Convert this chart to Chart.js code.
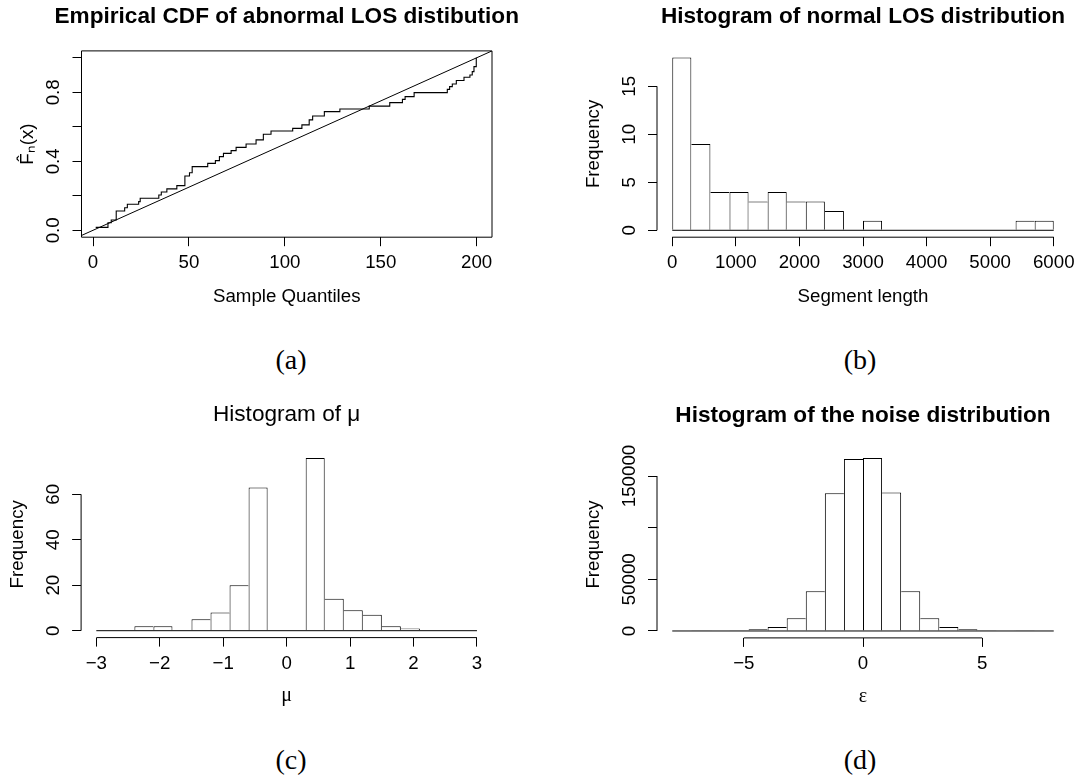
<!DOCTYPE html>
<html>
<head>
<meta charset="utf-8">
<script src="https://cdn.jsdelivr.net/npm/chart.js@4.4.1/dist/chart.umd.min.js"></script>
<style>
  body { margin: 0; background: #fff; }
  #page { position: relative; width: 1076px; height: 778px; overflow: hidden; background: #fff; }
  canvas { position: absolute; }
  .cap { position: absolute; width: 100px; height: 40px; line-height: 40px; text-align: center;
         font-family: 'Liberation Serif', 'DejaVu Serif', serif; font-size: 28px; color: #000; }
</style>
</head>
<body>
<div id="page">
  <canvas id="cdf" width="574" height="320" style="left:0px;top:0px"></canvas>
  <canvas id="los" width="650" height="320" style="left:538px;top:0px"></canvas>
  <canvas id="mu" width="574" height="330" style="left:0px;top:390px"></canvas>
  <canvas id="noise" width="650" height="330" style="left:538px;top:390px"></canvas>
  <div class="cap" style="left:241px;top:340px">(a)</div>
  <div class="cap" style="left:810px;top:340px">(b)</div>
  <div class="cap" style="left:241px;top:740px">(c)</div>
  <div class="cap" style="left:810px;top:740px">(d)</div>
</div>
<script>
// (a) empirical CDF, jump points
var ecdfX = [1.4, 7.8, 9.5, 12.1, 16.5, 17.9, 23.8, 24.6, 34.3, 35.6, 38.5, 43.7, 47.9, 50.3, 51.7,
             59.8, 63.8, 65.9, 68.0, 72.0, 74.6, 79.8, 85.0, 88.8, 92.8, 104.1, 108.9, 112.7, 114.5,
             120.6, 128.7, 144.0, 154.7, 161.3, 162.7, 167.4, 184.7, 185.9, 187.3, 189.4, 193.4,
             196.5, 197.7, 198.6, 199.8];
var ecdfY = [0.017, 0.044, 0.06, 0.112, 0.131, 0.151, 0.166, 0.186, 0.205, 0.222, 0.24, 0.259, 0.315,
             0.334, 0.369, 0.388, 0.404, 0.427, 0.446, 0.462, 0.481, 0.5, 0.524, 0.557, 0.576, 0.591,
             0.611, 0.64, 0.663, 0.688, 0.703, 0.72, 0.74, 0.759, 0.775, 0.798, 0.817, 0.833, 0.848,
             0.868, 0.887, 0.9, 0.92, 0.949, 1.0];
var refX = [-10, 210];
var refY = [-0.05, 1.05];
var cdfXTicks = [0, 50, 100, 150, 200];
var cdfXLabels = ['0', '50', '100', '150', '200'];
var cdfYTicks = [0, 0.2, 0.4, 0.6, 0.8, 1.0];
var cdfYLabels = ['0.0', '', '0.4', '', '0.8', ''];

// (b) normal LOS segment lengths
var losEdges = [0, 300, 600, 900, 1200, 1500, 1800, 2100, 2400, 2700, 3000, 3300, 3600, 3900, 4200,
                4500, 4800, 5100, 5400, 5700, 6000];
var losCounts = [18, 9, 4, 4, 3, 4, 3, 3, 2, 0, 1, 0, 0, 0, 0, 0, 0, 0, 1, 1];
var losXTicks = [0, 1000, 2000, 3000, 4000, 5000, 6000];
var losXLabels = ['0', '1000', '2000', '3000', '4000', '5000', '6000'];
var losYTicks = [0, 5, 10, 15];
var losYLabels = ['0', '5', '10', '15'];

// (c) mu
var muEdges = [-3, -2.7, -2.4, -2.1, -1.8, -1.5, -1.2, -0.9, -0.6, -0.3, 0, 0.3, 0.6, 0.9, 1.2, 1.5,
               1.8, 2.1, 2.4, 2.7, 3];
var muCounts = [0, 0, 2, 2, 0, 5, 8, 20, 63, 0, 0, 76, 14, 9, 7, 2, 1, 0, 0, 0];
var muXTicks = [-3, -2, -1, 0, 1, 2, 3];
var muXLabels = ['\u22123', '\u22122', '\u22121', '0', '1', '2', '3'];
var muYTicks = [0, 20, 40, 60];
var muYLabels = ['0', '20', '40', '60'];

// (d) noise
var noiseEdges = [-8, -7.2, -6.4, -5.6, -4.8, -4, -3.2, -2.4, -1.6, -0.8, 0, 0.8, 1.6, 2.4, 3.2, 4,
                  4.8, 5.6, 6.4, 7.2, 8];
var noiseCounts = [0, 100, 250, 600, 1600, 3900, 12200, 38500, 133200, 166500, 167400, 134100,
                   38500, 12200, 3900, 1600, 600, 250, 100, 0];
var noiseXTicks = [-5, 0, 5];
var noiseXLabels = ['\u22125', '0', '5'];
var noiseYTicks = [0, 50000, 100000, 150000];
var noiseYLabels = ['0', '50000', '', '150000'];

Chart.defaults.font.family = "'Liberation Sans', Arial, sans-serif";
Chart.defaults.font.size = 18.7;
Chart.defaults.color = '#000';

var TITLE_SIZE = 22.6;

// axis lines like R: box for (a), otherwise only from first to last tick
var axisLines = {
    id: 'axisLines',
    afterDraw: function(chart, args, o) {
        var ctx = chart.ctx, a = chart.chartArea;
        var xs = chart.scales.x, ys = chart.scales.y;
        ctx.save();
        ctx.strokeStyle = '#000';
        ctx.lineWidth = 1;
        ctx.beginPath();
        if (o.box) {
            ctx.rect(a.left, a.top, a.right - a.left, a.bottom - a.top);
        } else {
            var xt = xs.ticks, yt = ys.ticks;
            ctx.moveTo(xs.getPixelForValue(xt[0].value), a.bottom);
            ctx.lineTo(xs.getPixelForValue(xt[xt.length - 1].value), a.bottom);
            ctx.moveTo(a.left, ys.getPixelForValue(yt[0].value));
            ctx.lineTo(a.left, ys.getPixelForValue(yt[yt.length - 1].value));
        }
        ctx.stroke();
        ctx.restore();
    }
};
Chart.register(axisLines);

function histDatasets(edges, counts) {
    var pts = counts.map(function(c, i) { return {x: (edges[i] + edges[i + 1]) / 2, y: c}; });
    return [
        {
            type: 'line',
            data: [{x: edges[0], y: 0}, {x: edges[edges.length - 1], y: 0}],
            borderColor: '#000', borderWidth: 1, pointRadius: 0
        },
        {
            type: 'bar',
            data: pts,
            backgroundColor: '#fff',
            borderColor: '#000',
            borderSkipped: false,
            inflateAmount: 0,
            barPercentage: 1,
            categoryPercentage: 1,
            // shared edges drawn once, by the taller bar
            borderWidth: function(ctx) {
                var i = ctx.dataIndex, c = counts[i];
                return {
                    top: 1, bottom: 0,
                    left: (i === 0 || c >= counts[i - 1]) ? 1 : 0,
                    right: (i === counts.length - 1 || c > counts[i + 1]) ? 1 : 0
                };
            }
        }
    ];
}

// p: canvas box (page px), a: plot region (page px)
// an empty right axis as wide as the left one keeps the title centred over the plot
function makePanel(id, type, p, a, o) {
    var lh = TITLE_SIZE * 1.2;
    var W = a.l - p.left;
    var H = p.top + p.h - a.b;
    var padR = p.left + p.w - a.r - W;
    var tPb = (a.t - p.top) - o.tPt - lh;
    var grid = {display: true, drawOnChartArea: false, drawTicks: true, tickLength: 9,
                color: '#000', lineWidth: 1, offset: false};
    var config = {
        type: type,
        data: {datasets: o.datasets},
        options: {
            responsive: false,
            animation: false,
            events: [],
            layout: {autoPadding: false, padding: {left: 0, top: 0, right: padR, bottom: 0}},
            plugins: {
                legend: {display: false},
                tooltip: {enabled: false},
                title: {
                    display: true, text: o.title, color: '#000',
                    font: {size: TITLE_SIZE, weight: o.bold ? 'bold' : 'normal'},
                    padding: {top: o.tPt, bottom: tPb}
                },
                axisLines: {box: !!o.box}
            },
            scales: {
                x: {
                    type: 'linear', min: o.xMin, max: o.xMax, bounds: 'data', offset: false,
                    afterBuildTicks: function(s) { s.ticks = o.xTicks.map(function(v) { return {value: v}; }); },
                    afterFit: function(s) { s.height = H; },
                    grid: grid,
                    border: {display: false},
                    ticks: {autoSkip: false, maxRotation: 0, minRotation: 0, padding: 5.6,
                            callback: function(v, i) { return o.xLabels[i]; }},
                    title: {display: true, text: o.xTitle, color: '#000', font: o.xTitleFont || {},
                            padding: {top: 0, bottom: o.xTitlePb}}
                },
                y: {
                    type: 'linear', min: o.yMin, max: o.yMax, bounds: 'data', beginAtZero: false,
                    afterBuildTicks: function(s) { s.ticks = o.yTicks.map(function(v) { return {value: v}; }); },
                    afterFit: function(s) { s.width = W; },
                    grid: grid,
                    border: {display: false},
                    ticks: {autoSkip: false, minRotation: 90, maxRotation: 90, crossAlign: 'center',
                            padding: o.yPad, callback: function(v, i) { return o.yLabels[i]; }},
                    title: {display: true, text: o.yTitle, color: '#000', padding: {top: o.yTitlePt, bottom: 0}}
                },
                yr: {
                    type: 'linear', position: 'right', min: 0, max: 1,
                    afterFit: function(s) { s.width = W; },
                    grid: {display: false}, border: {display: false},
                    ticks: {display: false}, title: {display: false}
                }
            }
        }
    };
    return new Chart(document.getElementById(id), config);
}

document.addEventListener('DOMContentLoaded', function() {
    makePanel('cdf', 'line', {left: 0, top: 0, w: 574, h: 320},
        {l: 81.5, t: 50.9, r: 492, b: 237.2}, {
        title: 'Empirical CDF of abnormal LOS distibution', bold: true, tPt: 3.1,
        xTitle: 'Sample Quantiles', xTitlePb: 12.3,
        yTitle: 'F\u0302\u2099(x)', yTitlePt: 16.8,
        xMin: -6, xMax: 208, yMin: -0.04, yMax: 1.04,
        xTicks: cdfXTicks, xLabels: cdfXLabels, yTicks: cdfYTicks, yLabels: cdfYLabels, yPad: 5.5,
        box: true,
        datasets: [
            {
                data: ecdfX.map(function(x, i) { return {x: x, y: ecdfY[i]}; }),
                stepped: 'before', borderColor: '#000', borderWidth: 1.1, pointRadius: 0, fill: false
            },
            {
                data: refX.map(function(x, i) { return {x: x, y: refY[i]}; }),
                borderColor: '#000', borderWidth: 1, pointRadius: 0, fill: false
            }
        ]
    });

    makePanel('los', 'bar', {left: 538, top: 0, w: 650, h: 320},
        {l: 657, t: 50.6, r: 1069, b: 237.2}, {
        title: 'Histogram of normal LOS distribution', bold: true, tPt: 3.1,
        xTitle: 'Segment length', xTitlePb: 12.3,
        yTitle: 'Frequency', yTitlePt: 45.1,
        xMin: -240, xMax: 6240, yMin: -0.72, yMax: 18.72,
        xTicks: losXTicks, xLabels: losXLabels, yTicks: losYTicks, yLabels: losYLabels, yPad: 8.1,
        datasets: histDatasets(losEdges, losCounts)
    });

    makePanel('mu', 'bar', {left: 0, top: 390, w: 574, h: 330},
        {l: 81.1, t: 451, r: 492.2, b: 637.6}, {
        title: 'Histogram of \u03bc', bold: false, tPt: 11.1,
        xTitle: '\u03bc', xTitlePb: 11.9, xTitleFont: {family: "'Liberation Serif', serif", size: 20},
        yTitle: 'Frequency', yTitlePt: 6.7,
        xMin: -3.24, xMax: 3.24, yMin: -3.04, yMax: 79.04,
        xTicks: muXTicks, xLabels: muXLabels, yTicks: muYTicks, yLabels: muYLabels, yPad: 8.1,
        datasets: histDatasets(muEdges, muCounts)
    });

    makePanel('noise', 'bar', {left: 538, top: 390, w: 650, h: 330},
        {l: 657, t: 451, r: 1069, b: 637.9}, {
        title: 'Histogram of the noise distribution', bold: true, tPt: 12.6,
        xTitle: '\u03b5', xTitlePb: 11.6, xTitleFont: {family: "'Liberation Serif', serif", size: 20},
        yTitle: 'Frequency', yTitlePt: 45.1,
        xMin: -8.64, xMax: 8.64, yMin: -6700, yMax: 174200,
        xTicks: noiseXTicks, xLabels: noiseXLabels, yTicks: noiseYTicks, yLabels: noiseYLabels, yPad: -12.7,
        datasets: histDatasets(noiseEdges, noiseCounts)
    });
});
</script>
</body>
</html>
